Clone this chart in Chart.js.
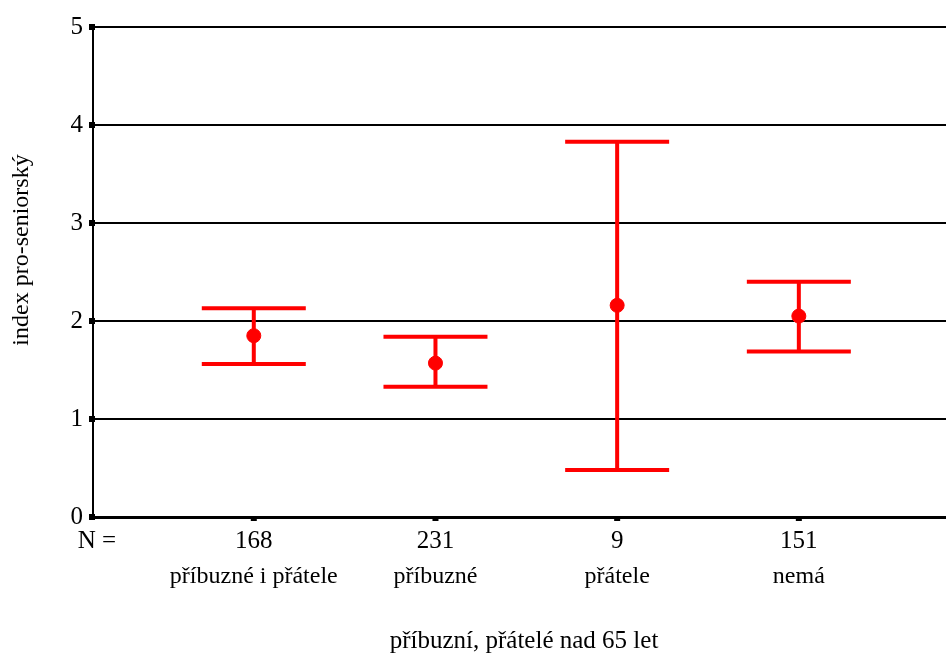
<!DOCTYPE html>
<html>
<head>
<meta charset="utf-8">
<script src="https://cdn.jsdelivr.net/npm/chart.js@4"></script>
<style>
  body { margin: 0; background: #fff; overflow: hidden; }
  #wrap { width: 946px; height: 657px; }
</style>
</head>
<body>
<div id="wrap"><canvas id="graf"></canvas></div>
<script>
// data
const kategorie = ['příbuzné i přátele', 'příbuzné', 'přátele', 'nemá'];
const pocty = [168, 231, 9, 151];
const prumery = [1.85, 1.57, 2.16, 2.05];
const dolni = [1.56, 1.33, 0.48, 1.69];
const horni = [2.13, 1.84, 3.83, 2.40];
const yTicks = [0, 1, 2, 3, 4, 5];

const pismo = '"Liberation Serif", "Times New Roman", serif';
const cervena = 'rgb(255, 0, 0)';

// chybove usecky + popisky osy x
const chybovePlugin = {
    id: 'chyboveUsecky',
    beforeDatasetsDraw(chart) {
        const ctx = chart.ctx;
        const x = chart.scales.x;
        const y = chart.scales.y;
        ctx.save();
        ctx.strokeStyle = cervena;
        ctx.lineWidth = 4;
        kategorie.forEach((k, i) => {
            const px = x.getPixelForValue(i + 1);
            const yHi = y.getPixelForValue(horni[i]);
            const yLo = y.getPixelForValue(dolni[i]);
            ctx.beginPath();
            ctx.moveTo(px, yHi);
            ctx.lineTo(px, yLo);
            ctx.moveTo(px - 52, yHi);
            ctx.lineTo(px + 52, yHi);
            ctx.moveTo(px - 52, yLo);
            ctx.lineTo(px + 52, yLo);
            ctx.stroke();
        });
        ctx.restore();
    },
    afterDraw(chart) {
        const ctx = chart.ctx;
        const x = chart.scales.x;
        const y = chart.scales.y;
        const area = chart.chartArea;
        ctx.save();
        ctx.fillStyle = '#000';
        // male ctverecky u znacek
        yTicks.forEach(t => {
            ctx.fillRect(area.left - 4, y.getPixelForValue(t) - 3, 6, 6);
        });
        kategorie.forEach((k, i) => {
            ctx.fillRect(x.getPixelForValue(i + 1) - 3, area.bottom - 1, 6, 5);
        });
        ctx.textAlign = 'center';
        ctx.textBaseline = 'middle';
        ctx.font = '25px ' + pismo;
        ctx.fillText('N =', 97, area.bottom + 24);
        kategorie.forEach((k, i) => {
            const px = x.getPixelForValue(i + 1);
            ctx.font = '25px ' + pismo;
            ctx.fillText(String(pocty[i]), px, area.bottom + 24);
            ctx.font = '24px ' + pismo;
            ctx.fillText(k, px, area.bottom + 60);
        });
        ctx.font = '25px ' + pismo;
        ctx.fillText('příbuzní, přátelé nad 65 let', 524, area.bottom + 124);
        // popisek osy y
        ctx.translate(22, 250);
        ctx.rotate(-Math.PI / 2);
        ctx.font = '24px ' + pismo;
        ctx.fillText('index pro-seniorský', 0, 0);
        ctx.restore();
    }
};

new Chart(document.getElementById('graf'), {
    type: 'scatter',
    data: {
        datasets: [{
            data: prumery.map((v, i) => ({ x: i + 1, y: v })),
            backgroundColor: cervena,
            borderColor: cervena,
            pointRadius: 7,
            pointHoverRadius: 7
        }]
    },
    options: {
        responsive: true,
        maintainAspectRatio: false,
        animation: false,
        layout: { autoPadding: false, padding: { top: 27, left: 0, right: 0, bottom: 0 } },
        plugins: {
            legend: { display: false },
            tooltip: { enabled: false }
        },
        scales: {
            x: {
                type: 'linear',
                min: 0.115,
                max: 4.81,
                afterFit: s => { s.height = 140; s.paddingRight = 0; },
                ticks: { display: false },
                grid: { display: false, drawTicks: false },
                border: { display: true, color: '#000', width: 3 }
            },
            y: {
                min: 0,
                max: 5,
                afterFit: s => { s.width = 93; },
                afterBuildTicks: s => { s.ticks = yTicks.map(v => ({ value: v })); },
                ticks: {
                    color: '#000',
                    padding: 10,
                    font: { family: pismo, size: 25 }
                },
                grid: { color: '#000', lineWidth: 2, drawTicks: false },
                border: { display: true, color: '#000', width: 2 }
            }
        }
    },
    plugins: [chybovePlugin]
});
</script>
</body>
</html>
